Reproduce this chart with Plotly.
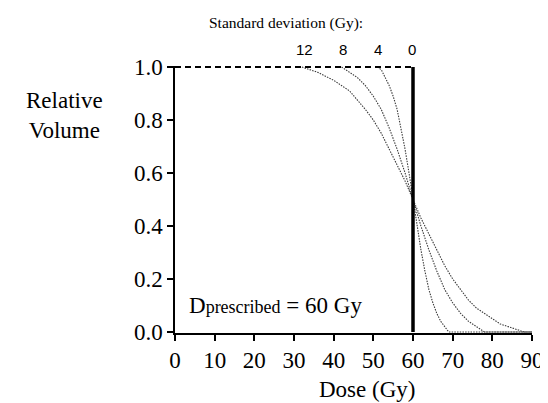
import plotly.graph_objects as go

# Data
dose_sd4 = [51, 52, 54, 55, 56, 57, 58, 59, 60, 61, 62, 63, 64, 65, 66, 67, 68, 69, 90]
vol_sd4 = [1.0, 0.99, 0.93, 0.89, 0.84, 0.77, 0.69, 0.60, 0.50, 0.40, 0.31, 0.23, 0.16, 0.11, 0.07, 0.04, 0.02, 0.0, 0.0]

dose_sd8 = [42, 44, 46, 48, 50, 52, 54, 56, 58, 60, 62, 64, 66, 68, 70, 72, 74, 76, 78, 90]
vol_sd8 = [1.0, 0.98, 0.96, 0.93, 0.89, 0.84, 0.77, 0.69, 0.60, 0.50, 0.40, 0.31, 0.23, 0.16, 0.11, 0.07, 0.04, 0.02, 0.0, 0.0]

dose_sd12 = [32, 36, 40, 44, 48, 50, 52, 54, 56, 58, 60, 62, 64, 66, 68, 70, 72, 74, 76, 78, 80, 82, 84, 86, 88, 90]
vol_sd12 = [1.0, 0.98, 0.95, 0.91, 0.84, 0.80, 0.75, 0.69, 0.63, 0.57, 0.50, 0.43, 0.37, 0.31, 0.25, 0.20, 0.16, 0.12, 0.09, 0.07, 0.05, 0.03, 0.02, 0.01, 0.0, 0.0]

plateau_dose = [0, 60]
plateau_vol = [1.0, 1.0]
step_dose = [60, 60]
step_vol = [1.0, 0.0]

sd_labels = ["12", "8", "4", "0"]
sd_label_x = [32.6, 42.3, 51.2, 59.7]

x_ticks = [0, 10, 20, 30, 40, 50, 60, 70, 80, 90]
y_ticks = [0.0, 0.2, 0.4, 0.6, 0.8, 1.0]

serif = "Liberation Serif, Times New Roman, serif"

fig = go.Figure()
for dx, vy in [(dose_sd4, vol_sd4), (dose_sd8, vol_sd8), (dose_sd12, vol_sd12)]:
    fig.add_trace(go.Scatter(x=dx, y=vy, mode="lines",
                             line=dict(color="#3a3a3a", width=1.1, dash="1.5px,1.2px"),
                             showlegend=False, hoverinfo="skip"))
fig.add_trace(go.Scatter(x=plateau_dose, y=plateau_vol, mode="lines",
                         line=dict(color="black", width=2, dash="6px,4px"),
                         showlegend=False, hoverinfo="skip"))
fig.add_trace(go.Scatter(x=step_dose, y=step_vol, mode="lines",
                         line=dict(color="black", width=3.5),
                         showlegend=False, hoverinfo="skip"))

annotations = [
    dict(text="Standard deviation (Gy):", x=28.1, xref="x", y=1.161, yref="paper",
         showarrow=False, xanchor="center", yanchor="middle",
         font=dict(family=serif, size=15.5, color="black")),
    dict(text="Relative<br>Volume", x=-0.309, xref="paper", y=0.815, yref="paper",
         showarrow=False, xanchor="center", yanchor="middle", align="center",
         font=dict(family=serif, size=23, color="black")),
    dict(text="Dose (Gy)", x=48.5, xref="x", y=-0.21, yref="paper",
         showarrow=False, xanchor="center", yanchor="middle",
         font=dict(family=serif, size=23, color="black")),
    dict(text="D<span style='font-size:18px'>prescribed</span> = 60 Gy", x=3.0, xref="x",
         y=0.10, yref="y", showarrow=False, xanchor="left", yanchor="middle",
         font=dict(family=serif, size=23, color="black")),
]
for lab, lx in zip(sd_labels, sd_label_x):
    annotations.append(dict(text=lab, x=lx, xref="x", y=1.06, yref="paper",
                            showarrow=False, xanchor="center", yanchor="middle",
                            font=dict(family="Liberation Sans, Arial, sans-serif", size=15, color="black")))

fig.update_layout(
    width=548, height=403,
    margin=dict(l=167, r=19, t=58, b=78),
    paper_bgcolor="white", plot_bgcolor="white",
    annotations=annotations,
    xaxis=dict(range=[0, 90], tickvals=x_ticks, ticktext=[str(v) for v in x_ticks],
               showgrid=False, zeroline=False, showline=True, linecolor="black", linewidth=1.5,
               ticks="outside", ticklen=6, tickwidth=1.5, tickcolor="black",
               tickfont=dict(family=serif, size=23, color="black")),
    yaxis=dict(range=[-0.004, 1.004], tickvals=y_ticks, ticktext=["%.1f" % v for v in y_ticks],
               showgrid=False, zeroline=False, showline=True, linecolor="black", linewidth=1.5,
               ticks="outside", ticklen=6, tickwidth=1.5, tickcolor="black",
               tickfont=dict(family=serif, size=23, color="black")),
)

fig.write_html("out.html")
